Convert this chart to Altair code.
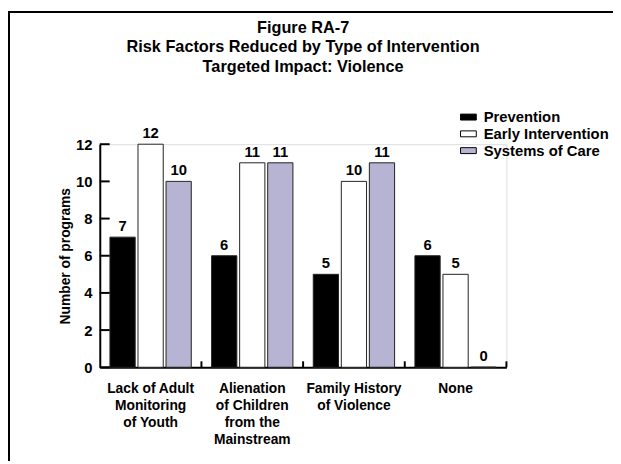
import altair as alt
import pandas as pd

categories = [
    "Lack of Adult|Monitoring|of Youth",
    "Alienation|of Children|from the|Mainstream",
    "Family History|of Violence",
    "None",
]
series = ["Prevention", "Early Intervention", "Systems of Care"]
prevention = [7, 6, 5, 6]
early_intervention = [12, 11, 10, 5]
systems_of_care = [10, 11, 11, 0]
colors = ["#000000", "#ffffff", "#b6b3d3"]
y_ticks = [0, 2, 4, 6, 8, 10, 12]

rows = []
for i, c in enumerate(categories):
    for s, vals in zip(series, [prevention, early_intervention, systems_of_care]):
        rows.append({"cat": c, "series": s, "value": vals[i]})
df = pd.DataFrame(rows)
tick_df = pd.DataFrame({"t": y_ticks})
cat_df = pd.DataFrame({"cat": categories})

FONT = "Liberation Sans"
W, H = 412, 226
PL, PT, PR, PB = 93, 135, 108, 95
STEP = W / 4.0

x_scale = alt.Scale(domain=categories, paddingInner=0.2, paddingOuter=0.1)
y_scale = alt.Scale(domain=[0, 12], nice=False)

x_axis = alt.Axis(
    labelExpr="split(datum.label, '|')", labelAngle=0, ticks=False, grid=False,
    labelFont=FONT, labelFontSize=14, labelFontWeight="bold", labelColor="black",
    labelLineHeight=17, labelPadding=15, domainColor="black", domainWidth=2,
)
y_axis = alt.Axis(
    values=y_ticks, ticks=False, grid=False, labelOverlap=False,
    labelFont=FONT, labelFontSize=15, labelFontWeight="bold", labelColor="black",
    labelPadding=8, domainColor="black", domainWidth=2,
    titleFont=FONT, titleFontSize=14, titleFontWeight="bold", titleColor="black",
    titlePadding=3,
)

x_enc = alt.X("cat:N", sort=categories, scale=x_scale, title=None, axis=x_axis)
xo_enc = alt.XOffset(
    "series:N", sort=series,
    scale=alt.Scale(domain=series, paddingInner=0.1, paddingOuter=0),
)
y_enc = alt.Y("value:Q", scale=y_scale, title="Number of programs", axis=y_axis)

base = alt.Chart(df).encode(x=x_enc, xOffset=xo_enc)

bars = base.mark_bar(stroke="#222222", strokeWidth=1).encode(
    y=y_enc,
    color=alt.Color(
        "series:N", sort=series,
        scale=alt.Scale(domain=series, range=colors),
        legend=alt.Legend(
            title=None, orient="none", legendX=366, legendY=-35,
            symbolType="M-1.33,-0.5H1.33V0.5H-1.33Z", symbolSize=144,
            symbolStrokeColor="black", symbolStrokeWidth=1, symbolOpacity=1,
            labelFont=FONT, labelFontSize=15, labelFontWeight="bold", labelColor="black",
            labelOffset=8, rowPadding=1, padding=0,
        ),
    ),
)

labels = base.mark_text(
    dy=-3, baseline="bottom", font=FONT, fontSize=15, fontWeight="bold", color="black"
).encode(y=y_enc, text="value:Q")

ytick_rules = alt.Chart(tick_df).mark_rule(color="black", strokeWidth=2).encode(
    y=alt.Y("t:Q", scale=y_scale, title="Number of programs", axis=y_axis),
    x=alt.value(0), x2=alt.value(10),
)

xtick_rules = alt.Chart(cat_df).mark_rule(
    color="black", strokeWidth=2, xOffset=0.1 * STEP
).encode(
    x=alt.X("cat:N", sort=categories, scale=x_scale, title=None, axis=x_axis, bandPosition=1),
    y=alt.value(H), y2=alt.value(H - 6),
)

border_top = alt.Chart(cat_df).mark_rule(color="black", strokeWidth=2).encode(
    x=alt.value(-PL), x2=alt.value(W + PR), y=alt.value(-PT + 1)
)
border_left = alt.Chart(cat_df).mark_rule(color="black", strokeWidth=2).encode(
    x=alt.value(-PL + 1), y=alt.value(-PT), y2=alt.value(H + PB)
)

chart = alt.layer(
    bars, labels, ytick_rules, xtick_rules, border_top, border_left
).properties(
    width=W, height=H,
    padding={"left": PL, "top": PT, "right": PR, "bottom": PB},
    autosize=alt.AutoSizeParams(type="none"),
    title=alt.TitleParams(
        ["Figure RA-7", "Risk Factors Reduced by Type of Intervention", "Targeted Impact: Violence"],
        font=FONT, fontSize=16.5, fontWeight="bold", color="black",
        lineHeight=19.5, anchor="middle", offset=0, dy=66,
    ),
).configure_view(stroke=None).configure(background="white")

chart.save("out.html", embed_options={"renderer": "svg", "actions": False})
